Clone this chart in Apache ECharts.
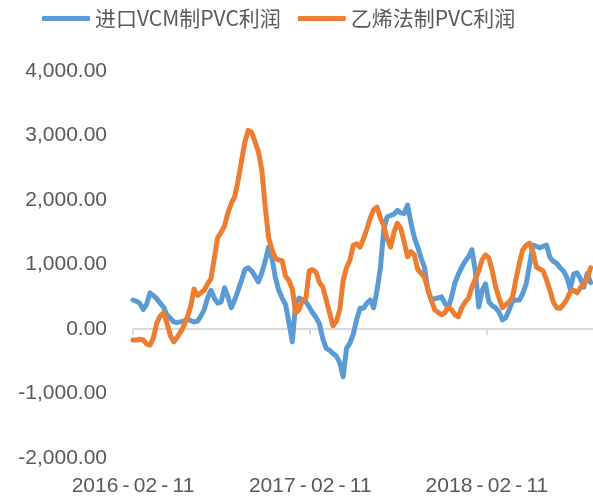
<!DOCTYPE html>
<html>
<head>
<meta charset="utf-8">
<script src="https://cdn.jsdelivr.net/npm/echarts@6/dist/echarts.min.js"></script>
<style>
  html, body { margin: 0; padding: 0; background: #fff; }
  #chart { width: 593px; height: 497px; }
</style>
</head>
<body>
<div id="chart"></div>
<script>
// weekly samples starting 2016-02-11
const startDate = '2016-02-11'
const endDate = '2018-09-18'
const tickDates = ['2016-02-11', '2017-02-11', '2018-02-11']

const vcmProfit = [
  450, 430, 400, 300, 380, 560, 520, 470, 400, 340,
  220, 170, 110, 100, 110, 120, 160, 130, 110, 120,
  200, 300, 480, 600, 480, 400, 420, 640, 500, 330,
  450, 600, 750, 920, 950, 900, 820, 730, 870, 1050,
  1270, 1100, 800, 600, 480, 380, 100, -200, 400, 480,
  450, 420, 340, 250, 180, 80, -150, -300, -330, -380,
  -420, -520, -740, -300, -220, -80, 150, 320, 320, 400,
  450, 330, 600, 950, 1550, 1740, 1760, 1780, 1840, 1800,
  1790, 1920, 1650, 1420, 1270, 1100, 960, 600, 450, 470,
  480, 500, 400, 320, 500, 720, 850, 960, 1050, 1120,
  1230, 900, 340, 600, 700, 420, 360, 330, 260, 140,
  180, 300, 430, 450, 450, 550, 700, 1000, 1300, 1280,
  1260, 1280, 1300, 1110, 1050, 1020, 950, 900, 800, 620,
  850, 870, 780, 650, 860, 720,
]

const ethyleneProfit = [
  -170, -170, -160, -170, -230, -250, -140, 90, 200, 250,
  100, -100, -200, -130, -50, 50, 180, 350, 620, 520,
  560, 600, 700, 780, 1100, 1420, 1500, 1600, 1800, 1950,
  2050, 2300, 2600, 2900, 3080, 3050, 2900, 2750, 2470, 1900,
  1420, 1230, 1100, 1070, 1060, 820, 750, 620, 250, 300,
  450, 470, 900, 920, 880, 720, 650, 450, 250, 50,
  120, 300, 750, 950, 1070, 1300, 1320, 1270, 1400, 1550,
  1720, 1850, 1890, 1720, 1600, 1400, 1270, 1500, 1640, 1560,
  1350, 1120, 1200, 1150, 920, 870, 800, 620, 450, 300,
  260, 220, 250, 340, 300, 220, 190, 330, 420, 480,
  650, 780, 900, 1070, 1150, 1100, 900, 650, 480, 330,
  380, 420, 500, 780, 1020, 1230, 1300, 1330, 1200, 960,
  930, 900, 760, 600, 420, 330, 320, 380, 460, 580,
  600, 560, 640, 700, 780, 950,
]

const DAY = 86400000
const toTs = (s) => {
  const [y, m, d] = s.split('-').map(Number)
  return Date.UTC(y, m - 1, d)
}
// x is counted in days since startDate
const toDay = (s) => Math.round((toTs(s) - toTs(startDate)) / DAY)
const fmtDay = (n) => {
  const d = new Date(toTs(startDate) + n * DAY)
  const p = (k) => String(k).padStart(2, '0')
  // thin spaces around the dashes, like the original font
  return `${d.getUTCFullYear()}\u2009-\u2009${p(d.getUTCMonth() + 1)}\u2009-\u2009${p(d.getUTCDate())}`
}

const weekDays = vcmProfit.map((_, i) => i * 7)
const tickDays = tickDates.map(toDay)

const chart = echarts.init(document.getElementById('chart'))
const labelColor = '#595959'

const dayAxisBase = {
  type: 'value',
  min: 0,
  max: toDay(endDate),
  splitLine: { show: false },
}

chart.setOption({
  animation: false,
  color: ['#5B9BD5', '#ED7D31'],
  legend: {
    left: 42,
    top: 8,
    padding: 0,
    icon: 'roundRect',
    itemWidth: 48,
    itemHeight: 5,
    itemGap: 17,
    textStyle: {
      color: labelColor,
      fontSize: 21,
      fontFamily: 'Noto Sans CJK SC',
    },
    data: ['进口VCM制PVC利润', '乙烯法制PVC利润'],
  },
  grid: { left: 133, right: 0, top: 71, bottom: 39 },
  xAxis: [
    {
      ...dayAxisBase,
      position: 'bottom',
      axisLine: { show: false, onZero: false },
      axisTick: { show: false },
      axisLabel: {
        customValues: tickDays,
        formatter: (v) => fmtDay(v),
        color: labelColor,
        fontSize: 21,
        margin: 18,
        fontFamily: 'Liberation Sans',
        hideOverlap: false,
      },
    },
    {
      ...dayAxisBase,
      position: 'bottom',
      axisLine: { show: true, onZero: true, lineStyle: { color: '#D9D9D9', width: 2 } },
      axisTick: {
        show: true,
        customValues: tickDays,
        length: 6,
        lineStyle: { color: '#D9D9D9', width: 2 },
      },
      axisLabel: { show: false },
    },
  ],
  yAxis: {
    type: 'value',
    min: -2000,
    max: 4000,
    interval: 1000,
    axisLine: { show: false },
    axisTick: { show: false },
    splitLine: { show: false },
    axisLabel: {
      color: labelColor,
      fontSize: 21,
      margin: 26,
      fontFamily: 'Liberation Sans',
      formatter: (v) =>
        v.toLocaleString('en-US', { minimumFractionDigits: 2, maximumFractionDigits: 2 }),
    },
  },
  series: [
    {
      name: '进口VCM制PVC利润',
      type: 'line',
      xAxisIndex: 0,
      showSymbol: false,
      lineStyle: { width: 5, join: 'round', cap: 'round' },
      data: weekDays.map((d, i) => [d, vcmProfit[i]]),
    },
    {
      name: '乙烯法制PVC利润',
      type: 'line',
      xAxisIndex: 0,
      showSymbol: false,
      lineStyle: { width: 5, join: 'round', cap: 'round' },
      data: weekDays.map((d, i) => [d, ethyleneProfit[i]]),
    },
  ],
})
</script>
</body>
</html>
